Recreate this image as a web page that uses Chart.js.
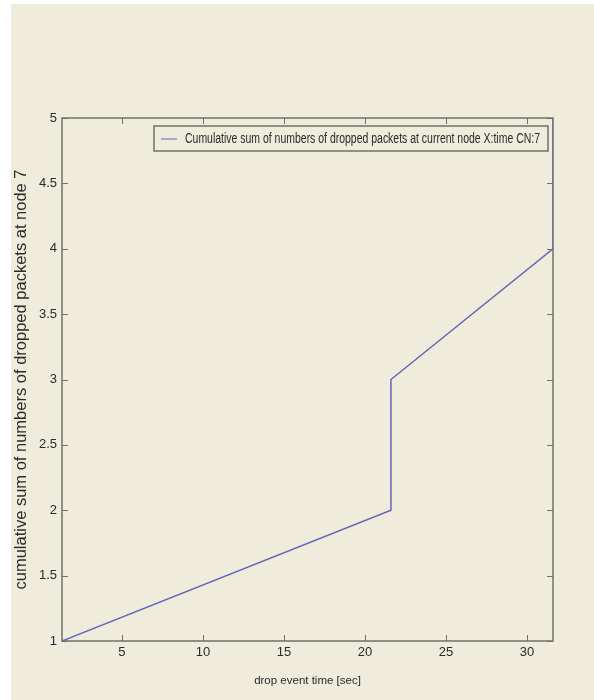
<!DOCTYPE html>
<html>
<head>
<meta charset="utf-8">
<script src="https://cdn.jsdelivr.net/npm/chart.js@4/dist/chart.umd.min.js"></script>
<style>
  body { margin: 0; background: #fff; }
  #wrap { position: absolute; left: 11px; top: 4px; width: 583px; height: 696px; background: #efecdb; }
</style>
</head>
<body>
<div id="wrap"><canvas id="dropChart"></canvas></div>
<script>
// drop events at node 7
const dropTimes = [1.3, 21.6, 21.6, 31.6, 31.6];
const cumulativeDrops = [1, 2, 3, 4, 5];
const xTicks = [5, 10, 15, 20, 25, 30];
const yTicks = [1, 1.5, 2, 2.5, 3, 3.5, 4, 4.5, 5];
const seriesLabel = "Cumulative sum of numbers of dropped packets at current node X:time CN:7";

const axisColor = "#707066";
const lineColor = "#6565b8";
const textColor = "#2a2a2a";
const sans = "'Liberation Sans', Arial, sans-serif";
const TICK = 6;

// matlab style: full box, ticks pointing inwards, legend inside top right
const matlabBox = {
  id: "matlabBox",
  beforeDatasetsDraw(chart) {
    const { ctx, chartArea: a, scales: { x, y } } = chart;
    ctx.save();
    ctx.strokeStyle = axisColor;
    ctx.lineWidth = 1.5;
    ctx.strokeRect(a.left, a.top, a.right - a.left, a.bottom - a.top);
    ctx.lineWidth = 1;
    ctx.beginPath();
    xTicks.forEach((v) => {
      const px = Math.round(x.getPixelForValue(v)) + 0.5;
      ctx.moveTo(px, a.bottom); ctx.lineTo(px, a.bottom - TICK);
      ctx.moveTo(px, a.top); ctx.lineTo(px, a.top + TICK);
    });
    yTicks.forEach((v) => {
      const py = Math.round(y.getPixelForValue(v)) + 0.5;
      ctx.moveTo(a.left, py); ctx.lineTo(a.left + TICK, py);
      ctx.moveTo(a.right, py); ctx.lineTo(a.right - TICK, py);
    });
    ctx.stroke();
    ctx.restore();
  },
  afterDatasetsDraw(chart) {
    const { ctx, chartArea: a } = chart;
    const ds = chart.data.datasets[0];
    ctx.save();
    ctx.font = "14px " + sans;
    // the original uses a narrow font, squeeze the text to the same width
    const textW = 355;
    const squeeze = textW / ctx.measureText(ds.label).width;
    const w = 31 + textW + 8, h = 25;
    const left = a.right - 5 - w, top = a.top + 8;
    ctx.fillStyle = "#efecdb";
    ctx.fillRect(left, top, w, h);
    ctx.strokeStyle = axisColor;
    ctx.lineWidth = 1.5;
    ctx.strokeRect(left, top, w, h);
    ctx.strokeStyle = ds.borderColor;
    ctx.lineWidth = 1;
    ctx.beginPath();
    ctx.moveTo(left + 7, top + h / 2 + 0.5);
    ctx.lineTo(left + 23, top + h / 2 + 0.5);
    ctx.stroke();
    ctx.fillStyle = textColor;
    ctx.textBaseline = "middle";
    ctx.translate(left + 31, top + h / 2 + 1);
    ctx.scale(squeeze, 1);
    ctx.fillText(ds.label, 0, 0);
    ctx.restore();
  }
};

new Chart(document.getElementById("dropChart"), {
  type: "line",
  data: {
    datasets: [{
      label: seriesLabel,
      data: dropTimes.map((t, i) => ({ x: t, y: cumulativeDrops[i] })),
      borderColor: lineColor,
      borderWidth: 1.5,
      pointRadius: 0,
      tension: 0,
      fill: false
    }]
  },
  options: {
    responsive: true,
    maintainAspectRatio: false,
    animation: false,
    layout: { padding: { left: 0, top: 114, right: 41, bottom: 0 } },
    plugins: { legend: { display: false }, tooltip: { enabled: false } },
    scales: {
      x: {
        type: "linear",
        min: 1.3,
        max: 31.6,
        afterBuildTicks: (s) => { s.ticks = xTicks.map((v) => ({ value: v })); },
        afterFit: (s) => { s.height = 59; },
        grid: { display: false, drawTicks: false },
        border: { display: false },
        ticks: { padding: 4, color: textColor, font: { family: sans, size: 13 }, maxRotation: 0, callback: (v) => String(v) },
        title: {
          display: true,
          text: "drop event time [sec]",
          color: textColor,
          font: { family: sans, size: 11.5 },
          padding: { top: 0, bottom: 12 }
        }
      },
      y: {
        min: 1,
        max: 5,
        afterBuildTicks: (s) => { s.ticks = yTicks.map((v) => ({ value: v })); },
        afterFit: (s) => { s.width = 51; },
        grid: { display: false, drawTicks: false },
        border: { display: false },
        ticks: { padding: 5, color: textColor, font: { family: sans, size: 13 }, callback: (v) => String(v) },
        title: {
          display: true,
          text: "cumulative sum of numbers of dropped packets at node 7",
          color: textColor,
          font: { family: sans, size: 16.5 },
          padding: { top: 1, bottom: 0 }
        }
      }
    }
  },
  plugins: [matlabBox]
});
</script>
</body>
</html>
